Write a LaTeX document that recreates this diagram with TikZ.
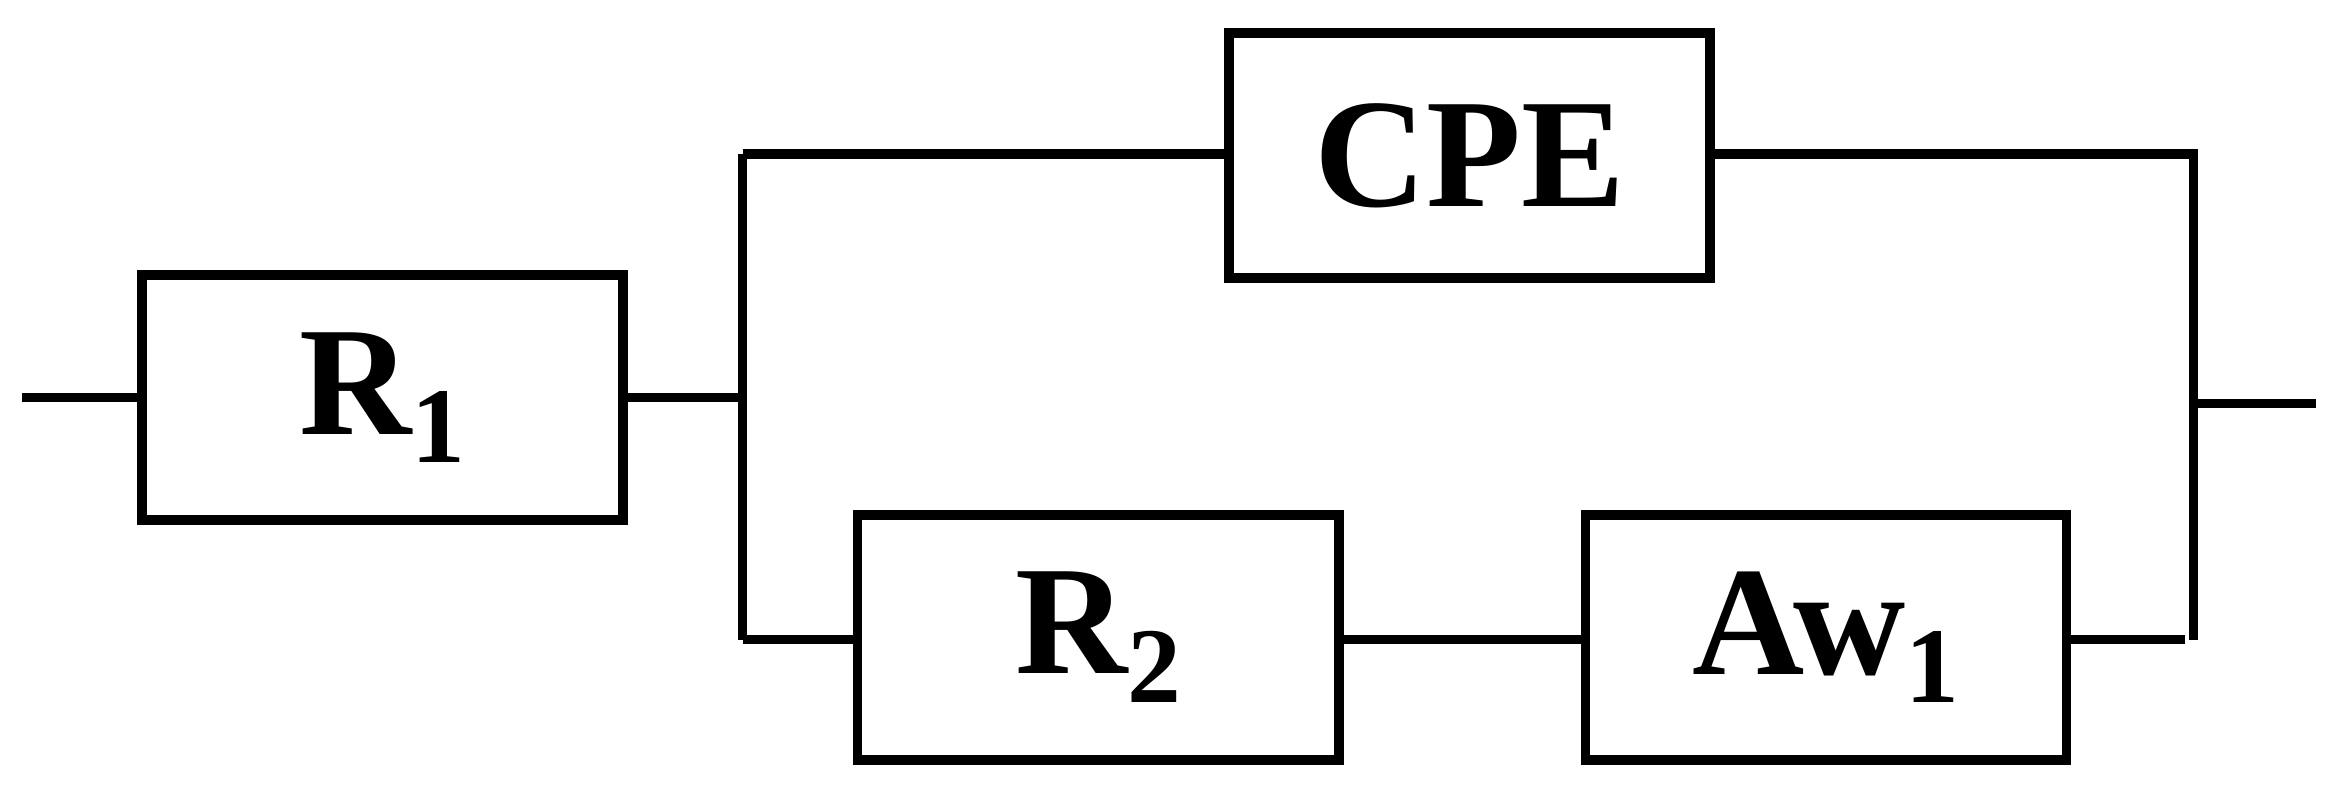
\documentclass[tikz,border=0pt]{standalone}
\usepackage{fontspec}
\setmainfont{Liberation Serif}
\newcommand{\lowsub}[1]{\raisebox{-0.4ex}{\fontsize{36}{40}\selectfont\bfseries #1}}
\begin{document}
\begin{tikzpicture}[x=0.5pt,y=-0.5pt,line width=3.2pt,
  elem/.style={draw,rectangle,minimum width=161pt,minimum height=82pt,inner sep=0pt,font=\fontsize{52}{58}\selectfont\bfseries}]
\useasboundingbox (0,0) rectangle (1568,530);
\node[elem] (R1) at (256,266) {R\lowsub{1}};
\node[elem] (CPE) at (983.5,104) {CPE};
\node[elem] (R2) at (735,426.5) {R\lowsub{2}};
\node[elem] (Aw) at (1222,426.5) {Aw\lowsub{1}};
\coordinate (in) at (15,266);
\coordinate (out) at (1550,270);
\coordinate (jl) at (497,266);
\coordinate (tl) at (497,103);
\coordinate (bl) at (497,428);
\coordinate (tr) at (1468,103);
\coordinate (br) at (1468,428);
\coordinate (mr) at (1468,270);
\draw (in) -- (R1.west);
\draw (R1.east) -- (jl);
\draw (tl) -- (bl);
\draw (tl) -- (CPE.west |- tl);
\draw (CPE.east |- tr) -- (tr) -- (br);
\draw (bl) -- (R2.west |- bl);
\draw (R2.east |- bl) -- (Aw.west |- bl);
\draw (Aw.east |- bl) -- (1462,428);
\draw (mr) -- (out);
\end{tikzpicture}
\end{document}
